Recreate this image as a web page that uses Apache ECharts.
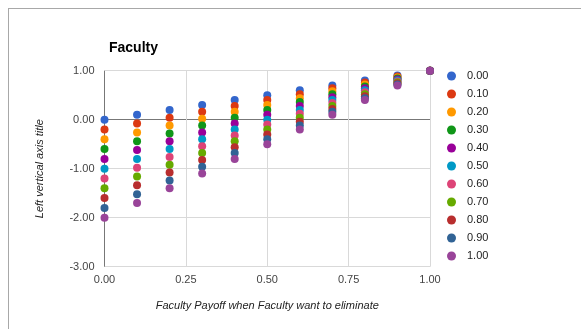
<!DOCTYPE html>
<html>
<head>
<meta charset="utf-8">
<script src="https://cdn.jsdelivr.net/npm/echarts@6/dist/echarts.min.js"></script>
<style>
  html, body { margin: 0; padding: 0; background: #fff; overflow: hidden; }
  #frame { position: absolute; left: 8px; top: 8px; width: 700px; height: 500px; border: 1px solid #a8a8a8; }
  #main { position: absolute; left: 0; top: 0; width: 581px; height: 329px; }
</style>
</head>
<body>
<div id="frame"></div>
<div id="main"></div>
<script>
  // x positions (Faculty payoff)
  var xValues = [0, 0.1, 0.2, 0.3, 0.4, 0.5, 0.6, 0.7, 0.8, 0.9, 1.0];
  var seriesNames = ['0.00', '0.10', '0.20', '0.30', '0.40', '0.50', '0.60', '0.70', '0.80', '0.90', '1.00'];
  var colors = ['#3366cc', '#dc3912', '#ff9900', '#109618', '#990099', '#0099c6',
                '#dd4477', '#66aa00', '#b82e2e', '#316395', '#994499'];

  // y values for each series
  var s000 = [0, 0.1, 0.2, 0.3, 0.4, 0.5, 0.6, 0.7, 0.8, 0.9, 1];
  var s010 = [-0.2, -0.08, 0.04, 0.16, 0.28, 0.4, 0.52, 0.64, 0.76, 0.88, 1];
  var s020 = [-0.4, -0.26, -0.12, 0.02, 0.16, 0.3, 0.44, 0.58, 0.72, 0.86, 1];
  var s030 = [-0.6, -0.44, -0.28, -0.12, 0.04, 0.2, 0.36, 0.52, 0.68, 0.84, 1];
  var s040 = [-0.8, -0.62, -0.44, -0.26, -0.08, 0.1, 0.28, 0.46, 0.64, 0.82, 1];
  var s050 = [-1, -0.8, -0.6, -0.4, -0.2, 0, 0.2, 0.4, 0.6, 0.8, 1];
  var s060 = [-1.2, -0.98, -0.76, -0.54, -0.32, -0.1, 0.12, 0.34, 0.56, 0.78, 1];
  var s070 = [-1.4, -1.16, -0.92, -0.68, -0.44, -0.2, 0.04, 0.28, 0.52, 0.76, 1];
  var s080 = [-1.6, -1.34, -1.08, -0.82, -0.56, -0.3, -0.04, 0.22, 0.48, 0.74, 1];
  var s090 = [-1.8, -1.52, -1.24, -0.96, -0.68, -0.4, -0.12, 0.16, 0.44, 0.72, 1];
  var s100 = [-2, -1.7, -1.4, -1.1, -0.8, -0.5, -0.2, 0.1, 0.4, 0.7, 1];
  var allY = [s000, s010, s020, s030, s040, s050, s060, s070, s080, s090, s100];

  var font = 'Arial, "Liberation Sans", sans-serif';

  var series = [];
  for (var i = 0; i < seriesNames.length; i++) {
    var pts = [];
    for (var j = 0; j < xValues.length; j++) {
      pts.push([xValues[j], allY[i][j]]);
    }
    series.push({
      name: seriesNames[i],
      type: 'scatter',
      symbol: 'circle',
      symbolSize: 8,
      data: pts,
      itemStyle: { color: colors[i], opacity: 1 }
    });
  }

  var myChart = echarts.init(document.getElementById('main'), null, { renderer: 'canvas' });
  var option = {
    animation: false,
    color: colors,
    title: {
      text: 'Faculty',
      left: 104,
      top: 36,
      textStyle: { fontFamily: font, fontSize: 14, fontWeight: 'bold', color: '#000' }
    },
    legend: {
      orient: 'vertical',
      left: 442,
      top: 65.5,
      icon: 'circle',
      itemWidth: 9,
      itemHeight: 9,
      itemGap: 7,
      data: seriesNames,
      textStyle: { fontFamily: font, fontSize: 11, color: '#222', padding: [0, 0, 0, 6] }
    },
    grid: { left: 104.5, right: 151, top: 70.7, bottom: 62.3, containLabel: false },
    xAxis: {
      type: 'value',
      min: 0,
      max: 1,
      interval: 0.25,
      name: 'Faculty Payoff when Faculty want to eliminate',
      nameLocation: 'middle',
      nameGap: 34,
      nameTextStyle: { fontFamily: font, fontSize: 11, fontStyle: 'italic', color: '#222' },
      axisLine: { show: false },
      axisTick: { show: false },
      axisLabel: {
        fontFamily: font, fontSize: 11, color: '#444', margin: 8,
        formatter: function (v) { return v.toFixed(2); }
      },
      splitLine: { show: true, lineStyle: { color: ['#777', '#d9d9d9', '#d9d9d9', '#d9d9d9', '#d9d9d9'], width: 1 } }
    },
    yAxis: {
      type: 'value',
      min: -3,
      max: 1,
      interval: 1,
      name: 'Left vertical axis title',
      nameLocation: 'middle',
      nameGap: 59,
      nameTextStyle: { fontFamily: font, fontSize: 11, fontStyle: 'italic', color: '#222' },
      axisLine: { show: false },
      axisTick: { show: false },
      axisLabel: {
        fontFamily: font, fontSize: 11, color: '#444', margin: 10,
        formatter: function (v) { return v.toFixed(2); }
      },
      splitLine: { show: true, lineStyle: { color: ['#d9d9d9', '#d9d9d9', '#d9d9d9', '#777', '#d9d9d9'], width: 1 } }
    },
    series: series
  };
  myChart.setOption(option);
</script>
</body>
</html>
